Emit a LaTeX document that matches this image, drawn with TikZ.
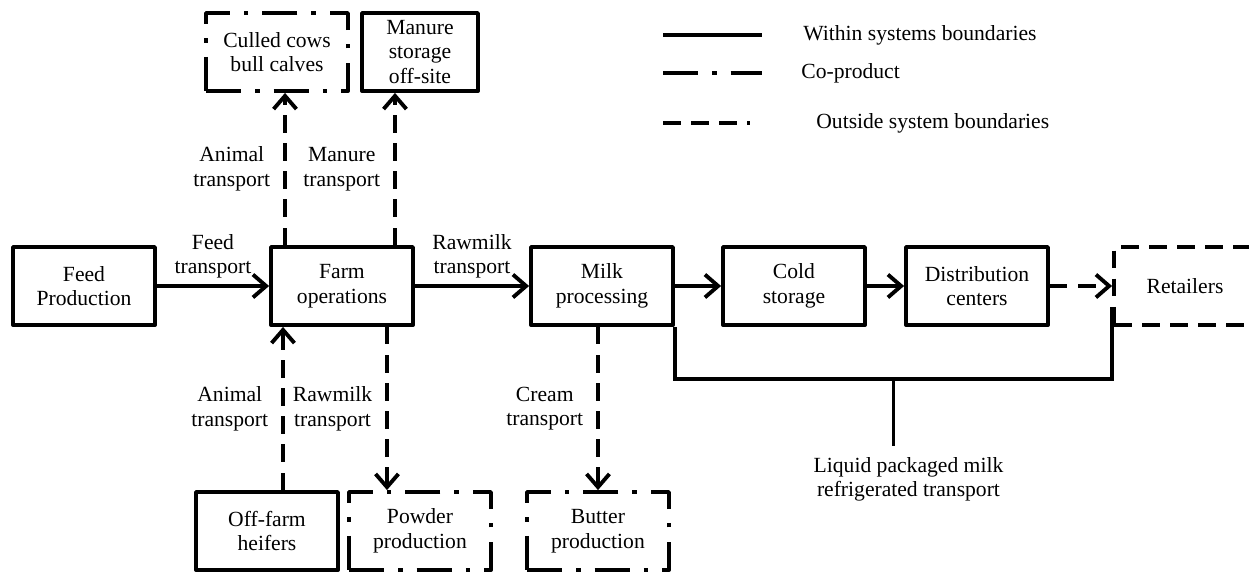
\documentclass[tikz,border=0pt]{standalone}
\usepackage{fontspec}
\setmainfont{Liberation Serif}
\usetikzlibrary{arrows.meta,calc}

\tikzset{
  box/.style={draw, line width=2.2pt, line join=round, minimum width=2.84cm,
    minimum height=1.56cm, inner sep=1pt, align=center,
    font=\fontsize{12.3}{14}\selectfont},
  link/.style={line width=2.2pt, -{Straight Barb[length=7.5pt,width=13pt]}},
  outside/.style={dash pattern=on 10pt off 6pt},
  coprod/.style={dash pattern=on 20pt off 8pt on 2.5pt off 8pt},
  lbl/.style={align=center, font=\fontsize{12.3}{14}\selectfont},
}

\begin{document}
\begin{tikzpicture}[x=0.02cm,y=-0.02cm]
\useasboundingbox (0,0) rectangle (1249,572);

% main chain
\foreach \name/\x/\txt in {feed/84/{Feed\\Production}, farm/342/{Farm\\operations},
  milk/602/{Milk\\processing}, cold/794/{Cold\\storage}, dist/977/{Distribution\\centers}} {
  \node[box] (\name) at (\x,286) {\txt};
}
\node[box, outside] (retail) at (1185,286) {Retailers};

% boxes above and below the farm
\node[box, coprod] (culled) at (277,52) {Culled cows\\bull calves};
\node[box, minimum width=2.32cm] (manure) at (420,52) {Manure\\storage\\off-site};
\node[box] (heifer) at (267,531) {Off-farm\\heifers};
\node[box, coprod] (powder) at (420,531) {Powder\\production};
\node[box, coprod] (butter) at (598,531) {Butter\\production};

% flows along the chain
\draw[link] (feed) -- node[lbl, above] {Feed\\transport} (farm);
\draw[link] (farm) -- node[lbl, above] {Rawmilk\\transport} (milk);
\draw[link] (milk) -- (cold);
\draw[link] (cold) -- (dist);
\draw[link, outside] (dist) -- (retail);

% side flows
\coordinate (f1) at ([xshift=-1.14cm]farm.north);
\coordinate (f2) at ([xshift=1.06cm]farm.north);
\coordinate (f3) at ([xshift=-1.18cm]farm.south);
\coordinate (f4) at ([xshift=0.9cm]farm.south);
\draw[link, outside] (f1) -- node[lbl, left=4pt] {Animal\\transport} (f1 |- culled.south);
\draw[link, outside] (f2) -- node[lbl, left=4pt] {Manure\\transport} (f2 |- manure.south);
\draw[link, outside] (f3 |- heifer.north) -- node[lbl, left=4pt] {Animal\\transport} (f3);
\draw[link, outside] (f4) -- node[lbl, left=4pt] {Rawmilk\\transport} (f4 |- powder.north);
\draw[link, outside] (milk.south -| butter.north) -- node[lbl, left=4pt] {Cream\\transport} (butter.north);

% packaged milk to the retailers
\draw[line width=2.2pt] (milk.south east) -- ++(0,52) coordinate (lq1)
  -| ([yshift=0.4cm]retail.south west);
\coordinate (lq2) at (lq1 -| retail.south west);
\draw[line width=2.2pt] ($(lq1)!0.5!(lq2)$) -- ++(0,67)
  node[lbl, below=2pt, xshift=0.3cm] (liquid) {Liquid packaged milk\\refrigerated transport};

% key
\foreach \i/\y/\sty/\len/\tx/\txt in {1/35/solid/99/803/{Within systems boundaries},
  2/73/coprod/99/801/{Co-product}, 3/123/outside/87/816/{Outside system boundaries}} {
  \draw[line width=2.2pt, style=\sty] (663,\y) -- ++(\len,0);
  \node[lbl, anchor=west, inner sep=0pt] (key\i) at (\tx,\y) {\txt};
}
\end{tikzpicture}
\end{document}
